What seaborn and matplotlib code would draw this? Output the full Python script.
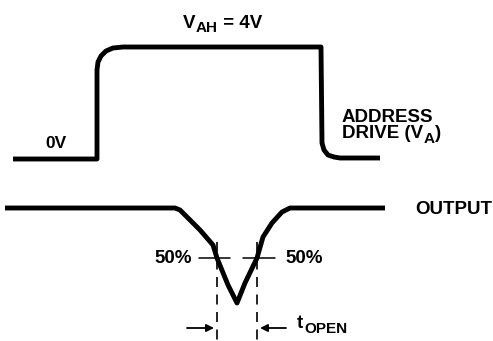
import matplotlib
matplotlib.use("Agg")
import matplotlib.pyplot as plt
import seaborn as sns
import pandas as pd

sns.set_theme(style="white")
plt.rcParams['font.family'] = ['Liberation Sans', 'DejaVu Sans']

# Waveform data (pixel-space units of the diagram)
address_x = [13, 97, 97, 98, 101, 106, 113, 123, 321, 322, 324, 328, 334, 340, 380]
address_y = [159, 159, 70, 62, 56, 51, 48, 47, 47, 143, 150, 155, 157, 158, 158]

output_x = [5, 175, 180, 185, 200, 213, 217, 228, 237, 245, 257, 263, 272, 282, 290, 385]
output_y = [208, 208, 210, 215, 230, 245, 258, 285, 303, 283, 258, 237, 223, 212, 208, 208]

cross_x = [217, 257]      # 50% crossing instants
level_50 = 258

fig = plt.figure(figsize=(4.93, 3.41), dpi=100)
ax = fig.add_axes([0, 0, 1, 1])
ax.set_xlim(0, 493)
ax.set_ylim(341, 0)
ax.axis("off")

df_a = pd.DataFrame({"x": address_x, "y": address_y})
df_o = pd.DataFrame({"x": output_x, "y": output_y})
for df in (df_a, df_o):
    sns.lineplot(data=df, x="x", y="y", sort=False, estimator=None, color="black",
                 lw=3.5, ax=ax, solid_joinstyle="round", solid_capstyle="butt")

# 50% level marks
ax.plot([199, 230], [level_50, level_50], color="black", lw=1.1)
ax.plot([243, 275], [level_50, level_50], color="black", lw=1.1)

# dashed verticals
for cx in cross_x:
    ax.plot([cx, cx], [242, 341], color="black", lw=1.2, dashes=(6, 4.5))

# arrows
ap = dict(arrowstyle="-|>", color="black", lw=1.3, mutation_scale=11, shrinkA=0, shrinkB=0)
ax.annotate("", xy=(cross_x[0] - 3, 328), xytext=(187, 328), arrowprops=ap)
ax.annotate("", xy=(cross_x[1] + 3, 328), xytext=(286, 328), arrowprops=ap)

tk = dict(color="black", fontweight="bold", va="baseline", ha="left")


def chain(prev, s, y, size, dx=0.5):
    return ax.annotate(s, xy=(1, y), xycoords=(prev, "data"), xytext=(dx, 0),
                       textcoords="offset points", fontsize=size, **tk)


v = ax.text(183, 28, "V", fontsize=13.5, **tk)
ah = chain(v, "AH", 32, 11, dx=0.3)
chain(ah, " = 4V", 28, 13.5, dx=0)

ax.text(45, 148, "0V", fontsize=12.5, **tk)
ax.text(342, 122, "ADDRESS", fontsize=13.5, **tk)
dv = ax.text(342, 138, "DRIVE (V", fontsize=13.5, **tk)
a = chain(dv, "A", 143, 11, dx=0.3)
chain(a, ")", 138, 13.5, dx=0)

ax.text(415, 214, "OUTPUT", fontsize=13.5, **tk)
ax.text(154, 263, "50%", fontsize=13.5, **tk)
ax.text(285, 263, "50%", fontsize=13.5, **tk)

t = ax.text(297, 328, "t", fontsize=13.5, **tk)
chain(t, "OPEN", 333, 11, dx=0.5)

fig.savefig("out.png", dpi=100)
